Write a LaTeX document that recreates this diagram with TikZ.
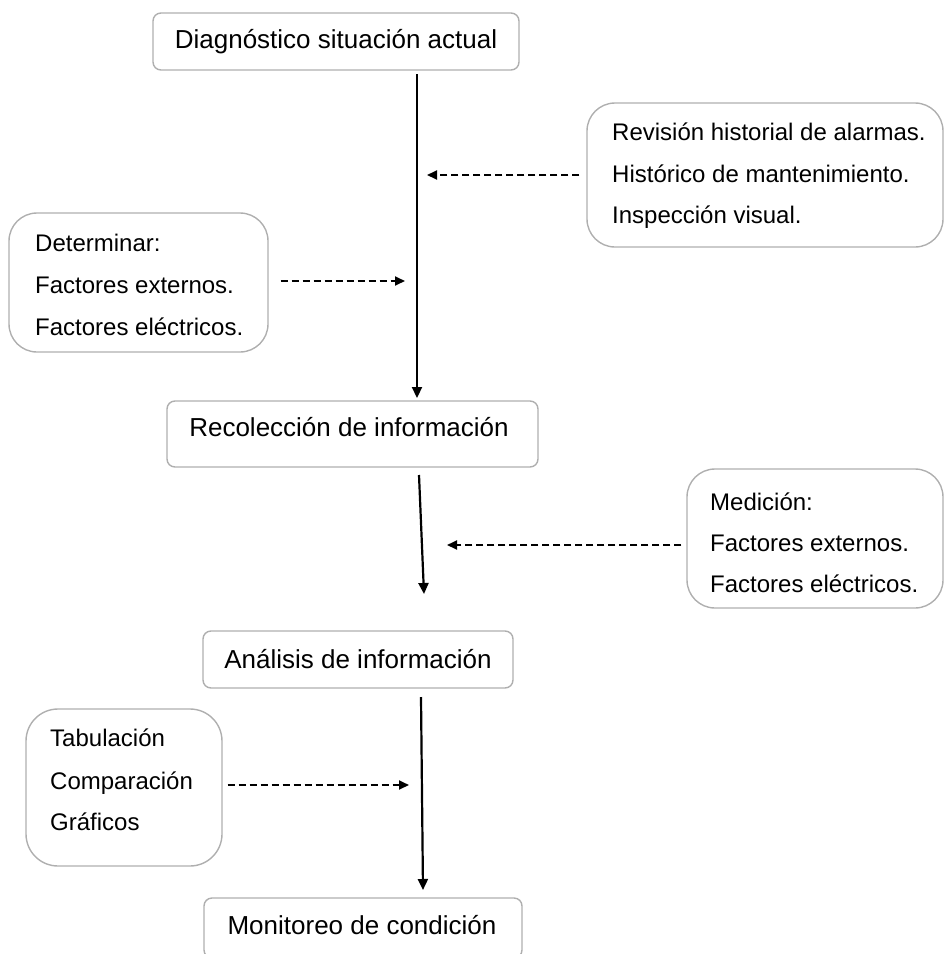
\documentclass[tikz,border=0pt]{standalone}
\usepackage{fontspec}
\setmainfont{Liberation Sans}
\usetikzlibrary{arrows.meta}
\definecolor{boxgray}{RGB}{175,175,175}
\begin{document}
\begin{tikzpicture}[x=1pt,y=-1pt,
  tbox/.style={draw=boxgray, line width=1.4pt, rounded corners=8pt, inner sep=0pt, font=\fontsize{26}{30}\selectfont},
  lbox/.style={draw=boxgray, line width=1.4pt, rounded corners=28pt, inner sep=0pt},
  ltxt/.style={anchor=base west, inner sep=0pt, font=\fontsize{24}{28}\selectfont},
  arr/.style={line width=2.2pt, -{Triangle[length=11pt,width=10pt]}},
  darr/.style={line width=1.8pt, dash pattern=on 7pt off 4pt, -{Triangle[length=10pt,width=9pt]}}
]
\useasboundingbox (0,0) rectangle (944,954);
% main boxes
\node[tbox, minimum width=366pt, minimum height=57pt] (b1) at (336,41.5) {Diagnóstico situación actual};
\node[tbox, minimum width=371pt, minimum height=66pt] (b2) at (352.5,434) {};
\node[inner sep=0pt, anchor=base, font=\fontsize{26}{30}\selectfont] (b2t) at (349,436) {Recolección de información};
\node[tbox, minimum width=310pt, minimum height=57pt] (b3) at (358,659.5) {Análisis de información};
\node[tbox, minimum width=318pt, minimum height=60pt] (b4) at (363,928) {};
\node[inner sep=0pt, anchor=base, font=\fontsize{26}{30}\selectfont] (b4t) at (362,934) {Monitoreo de condición};
% side boxes
\node[lbox, minimum width=356pt, minimum height=144pt] (r1) at (765,175) {};
\node[ltxt] (r1a) at (612,140) {Revisión historial de alarmas.};
\node[ltxt] (r1b) at (612,182) {Histórico de mantenimiento.};
\node[ltxt] (r1c) at (612,223) {Inspección visual.};
\node[lbox, minimum width=259pt, minimum height=139pt] (l1) at (138.5,282.5) {};
\node[ltxt] (l1a) at (35,251) {Determinar:};
\node[ltxt] (l1b) at (35,293) {Factores externos.};
\node[ltxt] (l1c) at (35,335) {Factores eléctricos.};
\node[lbox, minimum width=256pt, minimum height=139pt] (r2) at (815,538.5) {};
\node[ltxt] (r2a) at (710,510) {Medición:};
\node[ltxt] (r2b) at (710,551) {Factores externos.};
\node[ltxt] (r2c) at (710,592) {Factores eléctricos.};
\node[lbox, minimum width=196pt, minimum height=157pt, rounded corners=32pt] (l2) at (124,787.5) {};
\node[ltxt] (l2a) at (50,746) {Tabulación};
\node[ltxt] (l2b) at (50,789) {Comparación};
\node[ltxt] (l2c) at (50,830) {Gráficos};
% coordinates on the main flow
\coordinate (s1) at (417,74);
\coordinate (e1) at (417,398);
\coordinate (s2) at (419,475);
\coordinate (e2) at (424,594);
\coordinate (s3) at (421,697);
\coordinate (e3) at (423,890);
\coordinate (d1e) at (427,175);
\coordinate (d2e) at (405,281);
\coordinate (d3e) at (447,545);
\coordinate (d4e) at (409,785);
% solid arrows
\draw[arr] (s1) -- (e1);
\draw[arr] (s2) -- (e2);
\draw[arr] (s3) -- (e3);
% dashed arrows
\draw[darr, shorten <=7pt] (r1.west |- d1e) -- (d1e);
\draw[darr, shorten <=12pt] (l1.east |- d2e) -- (d2e);
\draw[darr, shorten <=5pt] (r2.west |- d3e) -- (d3e);
\draw[darr, shorten <=5pt] (l2.east |- d4e) -- (d4e);
\end{tikzpicture}
\end{document}
